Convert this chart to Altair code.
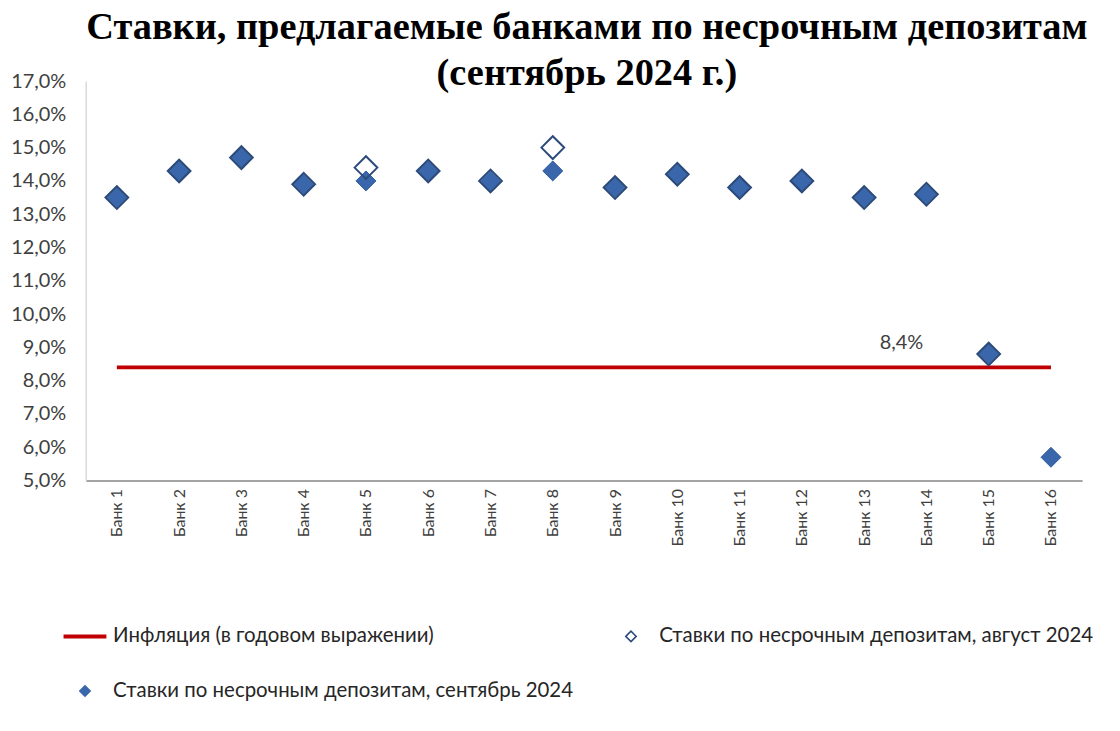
import altair as alt
import pandas as pd

BANKS = ["Банк 1", "Банк 2", "Банк 3", "Банк 4", "Банк 5", "Банк 6", "Банк 7", "Банк 8",
         "Банк 9", "Банк 10", "Банк 11", "Банк 12", "Банк 13", "Банк 14", "Банк 15", "Банк 16"]
SEPT = [13.5, 14.3, 14.7, 13.9, 14.0, 14.3, 14.0, 14.3, 13.8, 14.2, 13.8, 14.0, 13.5, 13.6, 8.8, 5.7]
AUG = [13.5, 14.3, 14.7, 13.9, 14.4, 14.3, 14.0, 15.0, 13.8, 14.2, 13.8, 14.0, 13.5, 13.6, 8.8, None]
INFL = [8.4, 8.4, 8.4, 8.4, 8.4, 8.4, 8.4, 8.4, 8.4, 8.4, 8.4, 8.4, 8.4, 8.4, 8.4, 8.4]
Y_TICKS = [5, 6, 7, 8, 9, 10, 11, 12, 13, 14, 15, 16, 17]

S_INF = "Инфляция (в годовом выражении)"
S_AUG = "Ставки по несрочным депозитам, август 2024"
S_SEP = "Ставки по несрочным депозитам, сентябрь 2024"
SERIES = [S_INF, S_AUG, S_SEP]
TITLE = ["Ставки, предлагаемые банками по несрочным депозитам", "(сентябрь 2024 г.)"]
INF_LABEL_BANK = "Банк 14"
INF_LABEL = "8,4%"

RED = "#c00000"
AUG_C = "#2b4a7a"
SEP_C = "#3a67ab"
SEP_EDGE = "#2f5c9c"
LINE_SYMBOL = "M-4.1,0H4.1"

rows = []
for b, v in zip(BANKS, INFL):
    rows.append({"bank": b, "series": S_INF, "value": v})
for b, v in zip(BANKS, AUG):
    if v is not None:
        rows.append({"bank": b, "series": S_AUG, "value": v})
for b, v in zip(BANKS, SEPT):
    rows.append({"bank": b, "series": S_SEP, "value": v})
df = pd.DataFrame(rows)

lab_df = pd.DataFrame({"bank": [INF_LABEL_BANK], "value": [INFL[13]], "label": [INF_LABEL]})

legend = alt.Legend(
    title=None, orient="none", legendX=-11, legendY=547, columns=2, direction="horizontal",
    columnPadding=47, rowPadding=34, labelFont="Lato", labelFontSize=20.5,
    labelColor="#262626", labelOffset=18, labelLimit=0, symbolOpacity=1, symbolSize=110,
)

x = alt.X("bank:N", sort=BANKS, scale=alt.Scale(domain=BANKS),
          axis=alt.Axis(title=None, labelAngle=270, labelAlign="right", labelBaseline="middle",
                        ticks=False, domainColor="#868686", domainWidth=1.5,
                        labelFont="Lato", labelFontSize=16, labelColor="#404040",
                        labelPadding=8))
y = alt.Y("value:Q", scale=alt.Scale(domain=[5, 17], nice=False, zero=False),
          axis=alt.Axis(title=None, values=Y_TICKS, grid=False, ticks=False,
                        labelExpr="replace(format(datum.value, '.1f'), '.', ',') + '%'",
                        domainColor="#d9d9d9", domainWidth=1.5,
                        labelFont="Lato", labelFontSize=20, labelColor="#404040",
                        labelPadding=20))

base = alt.Chart(df)
line = base.transform_filter(alt.datum.series == S_INF).mark_line(
    strokeWidth=4, color=RED).encode(x=x, y=y)
sept = base.transform_filter(alt.datum.series == S_SEP).mark_point(
    shape="diamond", filled=True, size=400, fill=SEP_C, stroke=SEP_EDGE, strokeWidth=1, opacity=1
).encode(x=x, y=y)
aug = base.transform_filter(alt.datum.series == S_AUG).mark_point(
    shape="diamond", filled=False, size=520, stroke=AUG_C, fill="transparent", strokeWidth=2, opacity=1
).encode(x=x, y=y)
txt = alt.Chart(lab_df).mark_text(dx=-25, dy=-24, font="Lato", fontSize=20, color="#404040").encode(
    x=x, y=y, text="label:N")

# legend-only layer: no rows survive the filter, the scales carry the three series
leg = base.transform_filter(alt.datum.value < 0).mark_point(opacity=1).encode(
    x=x, y=y,
    stroke=alt.Stroke("series:N", scale=alt.Scale(domain=SERIES, range=[RED, AUG_C, SEP_C]), legend=legend),
    fill=alt.Fill("series:N", scale=alt.Scale(domain=SERIES, range=["transparent", "white", SEP_C]), legend=legend),
    shape=alt.Shape("series:N", scale=alt.Scale(domain=SERIES, range=[LINE_SYMBOL, "diamond", "diamond"]), legend=legend),
    strokeWidth=alt.StrokeWidth("series:N", scale=alt.Scale(type="ordinal", domain=SERIES, range=[4, 1.5, 1.5]), legend=legend),
)

chart = alt.layer(line, sept, aug, txt, leg).properties(
    width=1000, height=401,
    title=alt.TitleParams(text=TITLE, font="Liberation Serif", fontSize=38.5, fontWeight="bold",
                          color="black", anchor="middle", frame="group", offset=-22, dx=3, lineHeight=46),
    autosize=alt.AutoSizeParams(type="none"),
    padding={"left": 78, "top": 72, "right": 30, "bottom": 240},
).configure_view(stroke=None)

chart.save("out.html", embed_options={"renderer": "svg", "actions": False})
